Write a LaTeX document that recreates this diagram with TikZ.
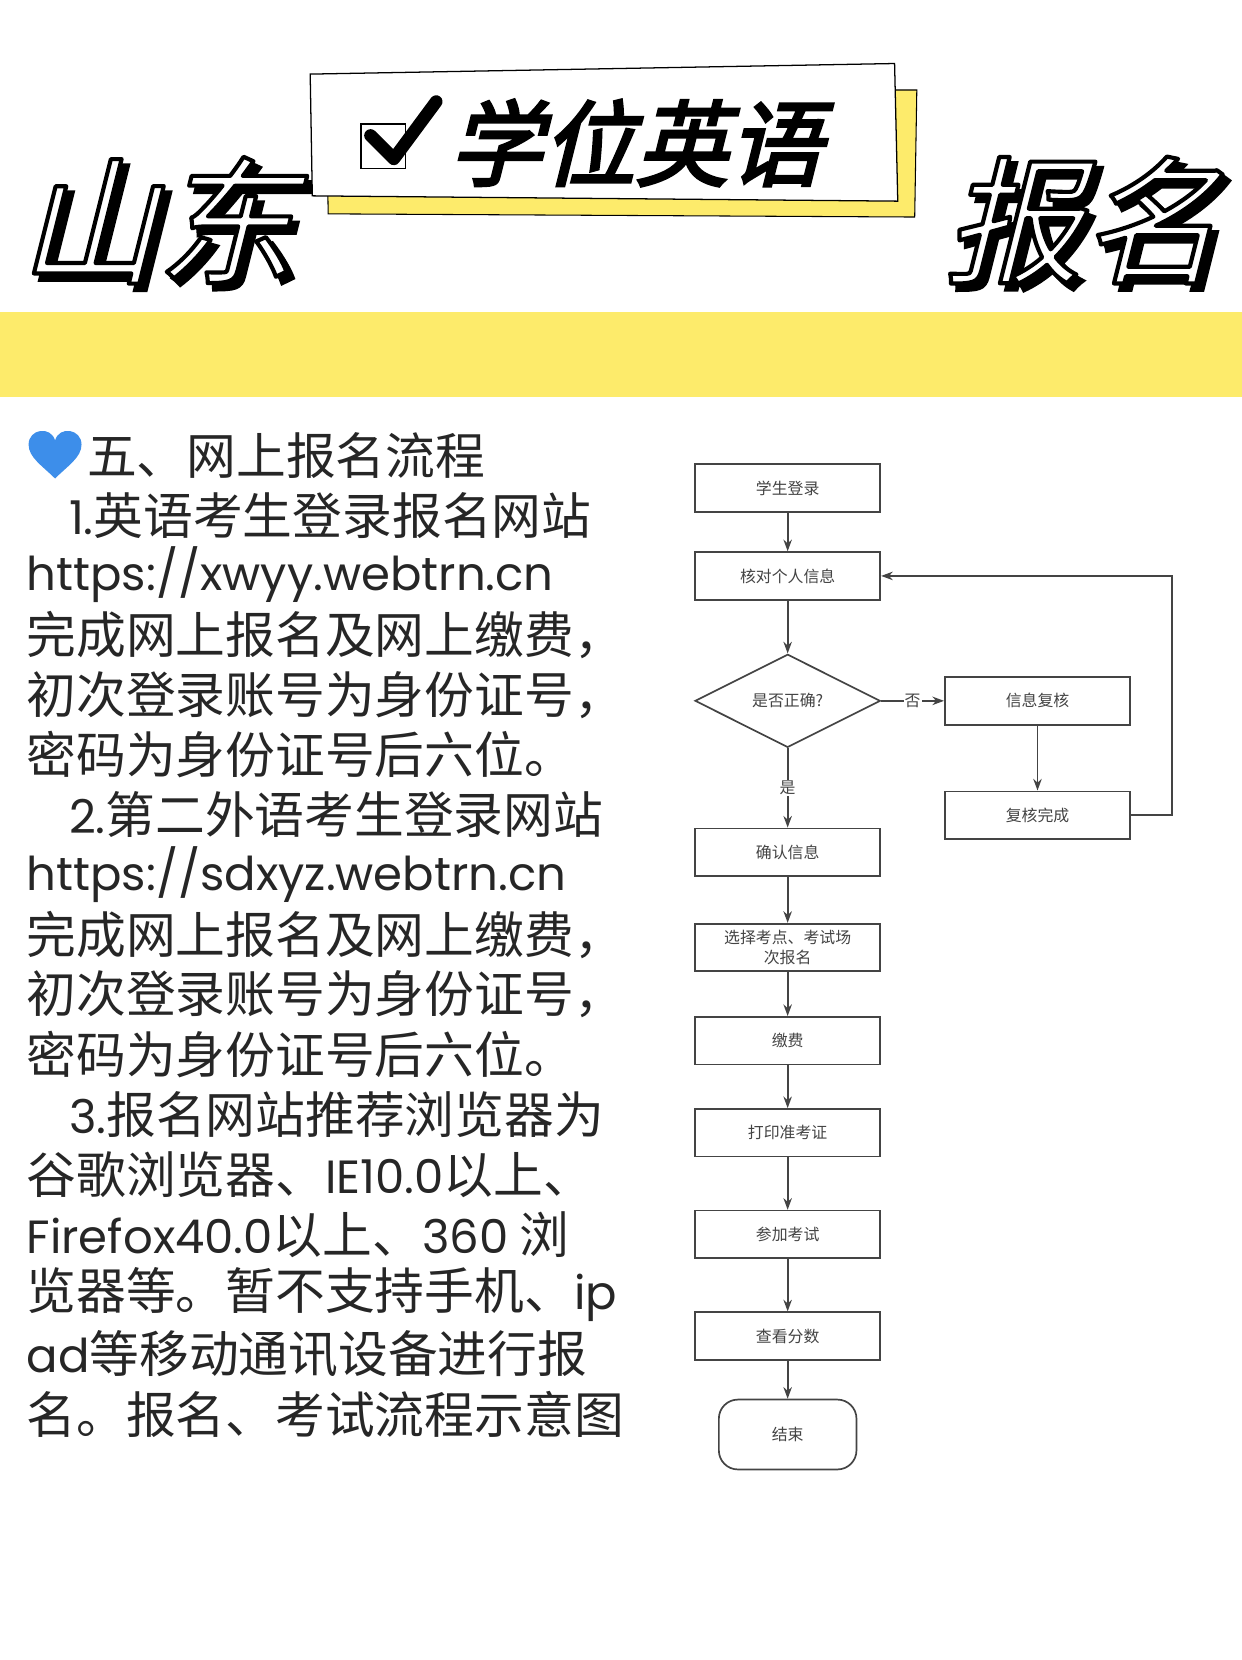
\documentclass[tikz,border=0pt]{standalone}
\usepackage{fontspec}
\usetikzlibrary{shapes.geometric,arrows.meta}
\setmainfont{Noto Sans CJK SC}
\newfontfamily\cjk{Noto Sans CJK SC}
\newfontfamily\lat{Poppins}
\newfontfamily\titlefont{Noto Sans CJK SC}[FakeSlant=0.25,FakeBold=3]
\newcommand\La[1]{{\lat\fontsize{44}{50}\selectfont #1}}
\newcommand\outl[1]{\textcolor{white}{\special{pdf:literal direct 2 Tr 7 w 0 G 1 j}#1\special{pdf:literal direct 0 Tr}}}
\definecolor{band}{HTML}{FDEB6B}
\definecolor{fc}{HTML}{444444}
\definecolor{heart}{HTML}{3D8EEA}
\begin{document}
\begin{tikzpicture}[x=1pt,y=-1pt,
  box/.style={draw=fc,line width=1.6pt,minimum width=175pt,minimum height=45pt,font=\cjk\fontsize{15}{17}\selectfont,text=fc,align=center,inner sep=1pt},
  arr/.style={draw=fc,line width=1.6pt,-{Stealth[length=11pt,width=8pt]}},
  body/.style={anchor=west,font=\cjk\fontsize{47}{50}\selectfont,text=black!85,inner sep=0pt},
  big/.style={font=\titlefont\fontsize{130}{130}\selectfont,inner sep=0pt}]
\useasboundingbox (0,0) rectangle (1173,1568);
\fill[white] (0,0) rectangle (1173,1568);
% header
\fill[band] (0,295) rectangle (1173,375);
\foreach \t/\x in {山东/148,报名/1022}{
  \node[big,text=black] at (\x+6,208+6) {\t};
  \node[big] at (\x,208) {\outl{\t}};
}
\draw[black,fill=band,line width=1pt] (308,85) -- (866,85) -- (864,205) -- (310,202) -- cycle;
\draw[black,fill=white,line width=1.2pt] (293,70) -- (845,60) -- (848,190) -- (295,185) -- cycle;
\node[draw,line width=1.5pt,minimum size=42pt] (cb) at (362,138) {};
\draw[line width=12pt,line cap=round,line join=round] (350,128) -- (372,150) -- (412,96);
\node[font=\titlefont\fontsize{88}{88}\selectfont,inner sep=0pt] (t) at (600,135) {学位英语};
% body text
\fill[heart] (52,452) .. controls (40,440) and (27,432) .. (27,420) .. controls (27,405) and (48,402) .. (52,416) .. controls (56,402) and (77,405) .. (77,420) .. controls (77,432) and (64,440) .. (52,452) -- cycle;
\node[body] (l0) at (82,430) {五、网上报名流程};
\foreach \s [count=\i] in {{\hspace{40pt}\La{1.}英语考生登录报名网站},{\La{https://xwyy.webtrn.cn}},{完成网上报名及网上缴费，},{初次登录账号为身份证号，},{密码为身份证号后六位。},{\hspace{40pt}\La{2.}第二外语考生登录网站},{\La{https://sdxyz.webtrn.cn}},{完成网上报名及网上缴费，},{初次登录账号为身份证号，},{密码为身份证号后六位。},{\hspace{40pt}\La{3.}报名网站推荐浏览器为},{谷歌浏览器、\La{IE10.0}以上、},{\La{Firefox40.0}以上、\La{360} 浏},{览器等。暂不支持手机、\La{ip}},{\La{ad}等移动通讯设备进行报},{名。报名、考试流程示意图}}
  \node[body] (b\i) at (25,430+56.6*\i) {\s};
% flowchart
\node[box] (n1) at (744,461) {学生登录};
\node[box] (n2) at (744,544) {核对个人信息};
\node[diamond,draw=fc,line width=1.6pt,minimum width=175pt,minimum height=88pt,aspect=2,inner sep=0pt,font=\cjk\fontsize{15}{17}\selectfont,text=fc] (d) at (744,662) {是否正确?};
\node[box] (s1) at (980,662) {信息复核};
\node[box] (s2) at (980,770) {复核完成};
\node[box] (n3) at (744,805) {确认信息};
\node[box,font=\cjk\fontsize{15}{18}\selectfont] (n4) at (744,895) {选择考点、考试场\\次报名};
\node[box] (n5) at (744,983) {缴费};
\node[box] (n6) at (744,1070) {打印准考证};
\node[box] (n7) at (744,1166) {参加考试};
\node[box] (n8) at (744,1262) {查看分数};
\node[box,rounded corners=18pt,minimum width=130pt,minimum height=66pt] (n9) at (744,1355) {结束};
\draw[arr] (n1) -- (n2);
\draw[arr] (n2) -- (d);
\draw[arr] (d) -- node[fill=white,inner sep=1pt,font=\cjk\fontsize{15}{17}\selectfont,text=fc]{否} (s1);
\draw[arr] (d) -- node[fill=white,inner sep=1pt,font=\cjk\fontsize{15}{17}\selectfont,text=fc]{是} (n3);
\draw[arr] (s1) -- (s2);
\coordinate (c1) at (1107,770);
\coordinate (c2) at (1107,544);
\draw[arr] (s2.east) -- (c1) -- (c2) -- (n2.east);
\draw[arr] (n3) -- (n4);
\draw[arr] (n4) -- (n5);
\draw[arr] (n5) -- (n6);
\draw[arr] (n6) -- (n7);
\draw[arr] (n7) -- (n8);
\draw[arr] (n8) -- (n9);
\end{tikzpicture}
\end{document}
